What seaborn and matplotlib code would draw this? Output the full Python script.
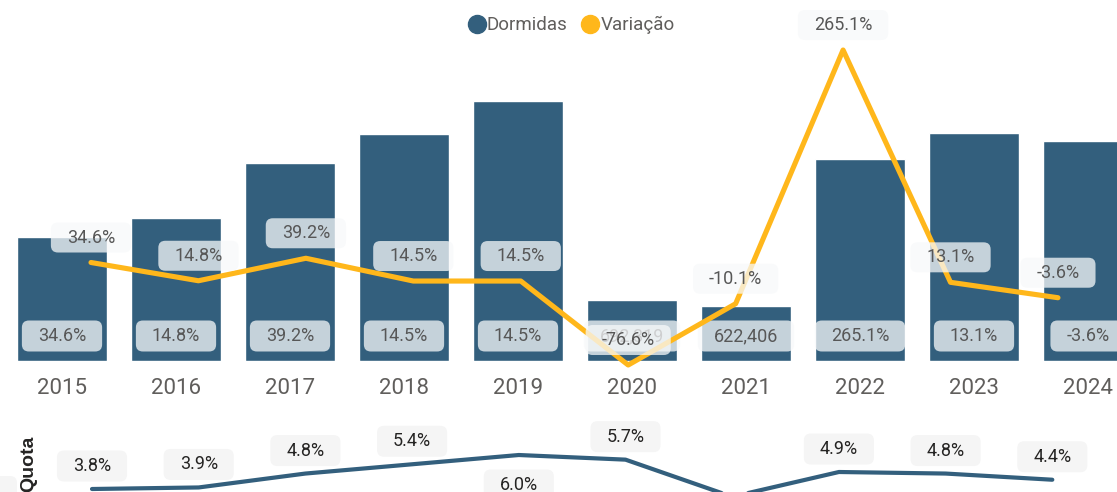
import matplotlib
matplotlib.use("Agg")
import matplotlib.pyplot as plt
import matplotlib.transforms as mtransforms
from matplotlib.patches import FancyBboxPatch
from matplotlib.lines import Line2D
import seaborn as sns
import pandas as pd

# ---------------- data ----------------
years = [2015, 2016, 2017, 2018, 2019, 2020, 2021, 2022, 2023, 2024]
year_labels = [str(y) for y in years]
dormidas = [1400000, 1607000, 2237000, 2562000, 2933000, 692319, 622406, 2272000, 2570000, 2478000]
variacao = [34.6, 14.8, 39.2, 14.5, 14.5, -76.6, -10.1, 265.1, 13.1, -3.6]
quota = [3.8, 3.9, 4.8, 5.4, 6.0, 5.7, 3.3, 4.9, 4.8, 4.4]
bar_labels = ["34.6%", "14.8%", "39.2%", "14.5%", "14.5%", "692,319", "622,406", "265.1%", "13.1%", "-3.6%"]
quota_label_below = [False, False, False, False, True, False, False, False, False, False]

# ---------------- style ----------------
W, H, DPI = 1117, 492, 100
BLUE = "#335F7D"
YELLOW = "#FFB71B"
GREY_TXT = "#605E5C"
LABEL_TXT = "#575757"
DARK_TXT = "#252423"
BOX_FC = (0.97, 0.976, 0.98)

sns.set_theme(style="white")
plt.rcParams["font.family"] = ["Roboto", "DejaVu Sans"]

fig = plt.figure(figsize=(W / DPI, H / DPI), dpi=DPI)
fig.patch.set_facecolor("white")


def px_rect(left, top, right, bottom):
    return [left / W, 1 - bottom / H, (right - left) / W, (bottom - top) / H]


ax_bar = fig.add_axes(px_rect(0, 0, W, 361))
ax_var = fig.add_axes(px_rect(0, 0, W, H))
ax_quota = fig.add_axes(px_rect(0, 0, W, H))
ax_bar.set_zorder(0)
ax_var.set_zorder(1)
ax_quota.set_zorder(2)
for a in (ax_var, ax_quota):
    a.set_facecolor("none")

# ---------------- bars ----------------
df = pd.DataFrame({"ano": year_labels, "dormidas": dormidas})
sns.barplot(data=df, x="ano", y="dormidas", order=year_labels, color=BLUE,
            saturation=1, width=0.79, ax=ax_bar, zorder=1)
step_bar = 114.0
x0_bar = 62.0
ax_bar.set_xlim(-x0_bar / step_bar, (W - x0_bar) / step_bar)
ax_bar.set_ylim(0, 361 * 11270)
for s in ax_bar.spines.values():
    s.set_visible(False)
ax_bar.set_yticks([])
ax_bar.set_xlabel("")
ax_bar.set_ylabel("")
ax_bar.tick_params(axis="x", length=0, pad=12, labelsize=16, labelcolor=GREY_TXT)
ax_bar.set_facecolor("white")

boxed = []  # (text, ax, facecolor, alpha, padx, height)
bar_tr = mtransforms.blended_transform_factory(ax_bar.transData, ax_bar.transAxes)
for i, lab in enumerate(bar_labels):
    t = ax_bar.text(i, (361 - 336) / 361, lab, transform=bar_tr, ha="center", va="center",
                    fontsize=13, color=LABEL_TXT, zorder=4)
    boxed.append((t, ax_bar, BOX_FC, 0.75, 16, 31))

# ---------------- variation line ----------------
dv = pd.DataFrame({"ano": years, "variacao": variacao})
sns.lineplot(data=dv, x="ano", y="variacao", color=YELLOW, linewidth=3.7, ax=ax_var,
             zorder=2, solid_capstyle="round", solid_joinstyle="round")
step_var = 107.44
ax_var.set_xlim(2015 - 91 / step_var, 2015 + (W - 91) / step_var)
kv = 0.9219
zero_v = 294.4
ax_var.set_ylim((zero_v - H) / kv, zero_v / kv)
ax_var.axis("off")
for x, v in zip(years, variacao):
    t = ax_var.annotate(f"{v:.1f}%", (x, v), xytext=(0, 25 * 72 / DPI), textcoords="offset points",
                        ha="center", va="center", fontsize=13, color=LABEL_TXT, zorder=4)
    boxed.append((t, ax_var, BOX_FC, 0.75, 16, 30))

# ---------------- quota line ----------------
dq = pd.DataFrame({"ano": years, "quota": quota})
sns.lineplot(data=dq, x="ano", y="quota", color=BLUE, linewidth=3.0, ax=ax_quota,
             zorder=2, solid_capstyle="round", solid_joinstyle="round")
step_q = 106.7
ax_quota.set_xlim(2015 - 92 / step_q, 2015 + (W - 92) / step_q)
kq = 15.45
ax_quota.set_ylim(3.8 + (489 - H) / kq, 3.8 + 489 / kq)
ax_quota.axis("off")
for x, v, below in zip(years, quota, quota_label_below):
    dy = -30 if below else 23
    t = ax_quota.annotate(f"{v:.1f}%", (x, v), xytext=(0, dy * 72 / DPI), textcoords="offset points",
                          ha="center", va="center", fontsize=13, color=DARK_TXT, zorder=4)
    boxed.append((t, ax_quota, "#F5F5F5", 1.0, 16, 31))

# ---------------- label boxes ----------------
renderer = fig.canvas.get_renderer()
for t, a, fc, alpha, padx, hgt in boxed:
    bb = t.get_window_extent(renderer)
    cx = (bb.x0 + bb.x1) / 2
    cy = (bb.y0 + bb.y1) / 2
    w = bb.width + 2 * padx
    p = FancyBboxPatch((cx - w / 2, cy - hgt / 2), w, hgt,
                       boxstyle="round,pad=0,rounding_size=7",
                       transform=mtransforms.IdentityTransform(),
                       facecolor=fc, edgecolor="none", alpha=alpha,
                       zorder=3, clip_on=False)
    a.add_artist(p)

# ---------------- legend & side label ----------------
handles = [
    Line2D([], [], marker="o", ls="", color=BLUE, markersize=13, label="Dormidas"),
    Line2D([], [], marker="o", ls="", color=YELLOW, markersize=13, label="Variação"),
]
fig.legend(handles=handles, loc="center", bbox_to_anchor=(571 / W, 1 - 25 / H), ncol=2,
           frameon=False, fontsize=13.5, handletextpad=0.05, columnspacing=0.7,
           handlelength=1.0, labelcolor=GREY_TXT)

fig.text(29 / W, 1 - 464 / H, "Quota", rotation=90, fontweight="bold", fontsize=14,
         family=["Liberation Sans", "DejaVu Sans"], ha="center", va="center", color=DARK_TXT)

fig.savefig("out.png", dpi=DPI, facecolor="white")
